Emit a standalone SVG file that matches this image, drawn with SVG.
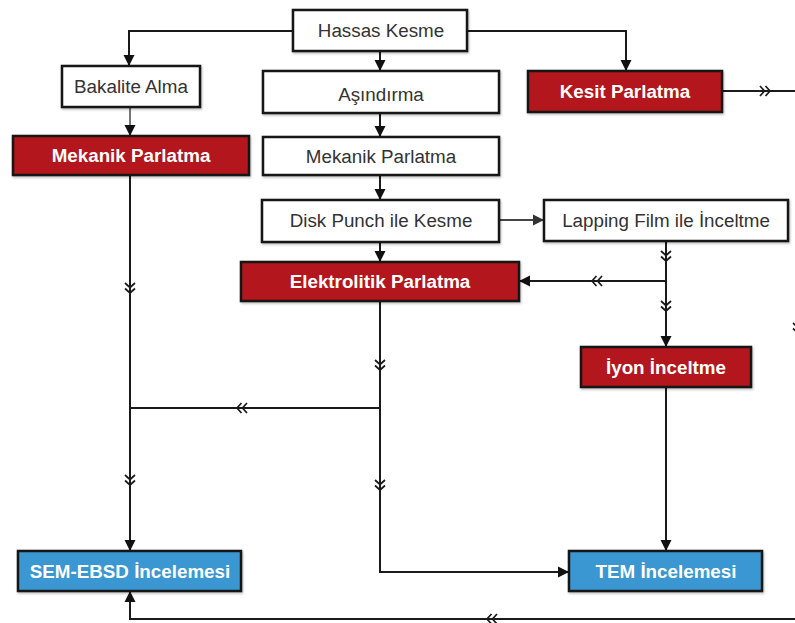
<svg xmlns="http://www.w3.org/2000/svg" width="795" height="623" viewBox="0 0 795 623">
<style>
.box{stroke:#161616;stroke-width:2.5}
.w{fill:#ffffff}
.r{fill:#b3161b}
.b{fill:#3b97d1}
.tw{font-family:"Liberation Sans",Arial,sans-serif;font-size:18.8px;fill:#333;text-anchor:middle}
.tb{font-family:"Liberation Sans",Arial,sans-serif;font-size:18.8px;font-weight:bold;fill:#fff;text-anchor:middle}
.c{fill:none;stroke:#1a1a1a;stroke-width:2}
.ch{fill:none;stroke:#1a1a1a;stroke-width:1.7}
</style>
<defs>
<marker id="ah" markerUnits="userSpaceOnUse" markerWidth="12" markerHeight="12" refX="11" refY="6" orient="auto">
<path d="M0,0.5 L11,6 L0,11.5 z" fill="#111"/>
</marker>
<marker id="ahg" markerUnits="userSpaceOnUse" markerWidth="12" markerHeight="12" refX="11" refY="6" orient="auto">
<path d="M0,0.5 L11,6 L0,11.5 z" fill="#333"/>
</marker>
<path id="chev" d="M-7,-5 L-2.5,0 L-7,5 M-1.5,-5 L3,0 L-1.5,5"/>
<filter id="sh" x="-5%" y="-10%" width="110%" height="130%">
<feDropShadow dx="1" dy="1.5" stdDeviation="1" flood-color="#000" flood-opacity="0.25"/>
</filter>
</defs>
<rect width="795" height="623" fill="#ffffff"/>
<g id="connectors">
<path class="c" d="M293,31 H129 V66" marker-end="url(#ah)"/>
<path class="c" d="M380,51 V71" marker-end="url(#ah)"/>
<path class="c" d="M467,31 H626 V71" marker-end="url(#ah)"/>
<path class="c" style="stroke:#777" d="M130,107 V136" marker-end="url(#ah)"/>
<path class="c" d="M380,113 V137" marker-end="url(#ah)"/>
<path class="c" d="M380,175 V200" marker-end="url(#ah)"/>
<path class="c" d="M380,242 V262" marker-end="url(#ah)"/>
<path class="c" style="stroke:#444" d="M499,220 H544" marker-end="url(#ahg)"/>
<path class="c" d="M666,241 V347" marker-end="url(#ah)"/>
<path class="c" d="M666,281 H519" marker-end="url(#ah)"/>
<path class="c" d="M722,91 H795"/>
<path class="c" d="M130,175 V551" marker-end="url(#ah)"/>
<path class="c" d="M380,408 H130"/>
<path class="c" d="M380,301 V572 H569" marker-end="url(#ah)"/>
<path class="c" d="M666,387 V551" marker-end="url(#ah)"/>
<path class="c" d="M795,619 H130 V591" marker-end="url(#ah)"/>
<use href="#chev" class="ch" transform="translate(767,91)"/>
<use href="#chev" class="ch" transform="translate(666,258) rotate(90)"/>
<use href="#chev" class="ch" transform="translate(666,308) rotate(90)"/>
<use href="#chev" class="ch" transform="translate(595,281) rotate(180)"/>
<use href="#chev" class="ch" transform="translate(130,290) rotate(90)"/>
<use href="#chev" class="ch" transform="translate(130,482) rotate(90)"/>
<use href="#chev" class="ch" transform="translate(240,408) rotate(180)"/>
<use href="#chev" class="ch" transform="translate(380,367) rotate(90)"/>
<use href="#chev" class="ch" transform="translate(380,487) rotate(90)"/>
<use href="#chev" class="ch" transform="translate(490,619) rotate(180)"/>
<use href="#chev" class="ch" transform="translate(798,330) rotate(90)"/>
</g>
<g id="hassas-kesme">
<rect class="box w" x="293" y="10" width="174" height="41" filter="url(#sh)"/>
<text class="tw" x="381" y="37">Hassas Kesme</text>
</g>
<g id="bakalite-alma">
<rect class="box w" x="62" y="66" width="138" height="41" filter="url(#sh)"/>
<text class="tw" x="131" y="93">Bakalite Alma</text>
</g>
<g id="asindirma">
<rect class="box w" x="263" y="71" width="236" height="42" filter="url(#sh)"/>
<text class="tw" x="381" y="101">Aşındırma</text>
</g>
<g id="kesit-parlatma">
<rect class="box r" x="528" y="71" width="194" height="41" filter="url(#sh)"/>
<text class="tb" x="625" y="98">Kesit Parlatma</text>
</g>
<g id="mekanik-parlatma-1">
<rect class="box r" x="13" y="136" width="236" height="39" filter="url(#sh)"/>
<text class="tb" x="131" y="162">Mekanik Parlatma</text>
</g>
<g id="mekanik-parlatma-2">
<rect class="box w" x="263" y="137" width="236" height="38" filter="url(#sh)"/>
<text class="tw" x="381" y="163">Mekanik Parlatma</text>
</g>
<g id="disk-punch">
<rect class="box w" x="262" y="200" width="237" height="42" filter="url(#sh)"/>
<text class="tw" x="381" y="227">Disk Punch ile Kesme</text>
</g>
<g id="lapping-film">
<rect class="box w" x="544" y="200" width="244" height="41" filter="url(#sh)"/>
<text class="tw" x="666" y="227">Lapping Film ile İnceltme</text>
</g>
<g id="elektrolitik-parlatma">
<rect class="box r" x="241" y="262" width="278" height="39" filter="url(#sh)"/>
<text class="tb" x="380" y="288">Elektrolitik Parlatma</text>
</g>
<g id="iyon-inceltme">
<rect class="box r" x="581" y="347" width="170" height="40" filter="url(#sh)"/>
<text class="tb" x="666" y="374">İyon İnceltme</text>
</g>
<g id="sem-ebsd">
<rect class="box b" x="18" y="551" width="223" height="40" filter="url(#sh)"/>
<text class="tb" x="130" y="578">SEM-EBSD İncelemesi</text>
</g>
<g id="tem">
<rect class="box b" x="569" y="551" width="193" height="40" filter="url(#sh)"/>
<text class="tb" x="666" y="578">TEM İncelemesi</text>
</g>
</svg>
